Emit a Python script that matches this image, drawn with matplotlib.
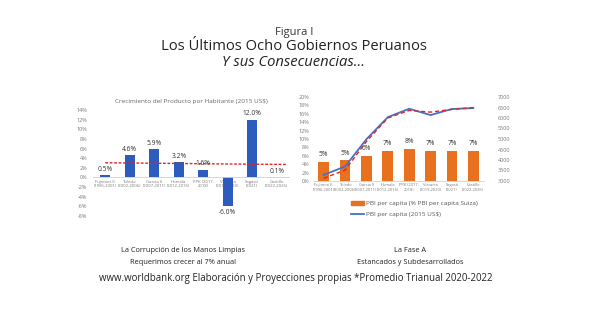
import matplotlib
matplotlib.use("Agg")
import matplotlib.pyplot as plt
from matplotlib.patches import Patch
from matplotlib.lines import Line2D

# ---- data ----
left_cats = ["Fujimori II\n(1996-2001)", "Toledo\n(2002-2006)", "Garcia II\n(2007-2011)",
             "Humala\n(2012-2016)", "PPK (2017-\n2018)", "Vizcarra\n(2019-2020)",
             "Sagasti\n(2021)", "Castillo\n(2022-2026)"]
growth = [0.5, 4.6, 5.9, 3.2, 1.6, -6.0, 12.0, 0.1]
growth_labels = ["0.5%", "4.6%", "5.9%", "3.2%", "1.6%", "-6.0%", "12.0%", "0.1%"]
growth_trend = [3.05, 3.0, 2.95, 2.9, 2.85, 2.8, 2.75, 2.7]
left_yticks = [-8, -6, -4, -2, 0, 2, 4, 6, 8, 10, 12, 14]

right_cats = ["Fujimori II\n(1996-2001)", "Toledo\n(2002-2006)", "Garcia II\n(2007-2011)",
              "Humala\n(2012-2016)", "PPK (2017-\n2018)", "Vizcarra\n(2019-2020)",
              "Sagasti\n(2021)", "Castillo\n(2022-2026)"]
pct_suiza = [4.5, 4.9, 6.0, 7.2, 7.6, 7.1, 7.25, 7.25]
pct_labels = ["5%", "5%", "6%", "7%", "8%", "7%", "7%", "7%"]
pbi_pc = [3290, 3690, 4990, 6040, 6440, 6140, 6430, 6470]
pbi_trend = [3130, 3520, 4880, 6000, 6360, 6280, 6410, 6500]
right_yticks = [0, 2, 4, 6, 8, 10, 12, 14, 16, 18, 20]
right_y2ticks = [3000, 3500, 4000, 4500, 5000, 5500, 6000, 6500, 7000]

plt.rcParams['font.family'] = ['Open Sans', 'DejaVu Sans']
W, H = 589, 331
fig = plt.figure(figsize=(W / 100, H / 100), dpi=100)
fig.patch.set_facecolor("white")

tick_col = "#7a7a7a"
blue_bar = "#2D5CBE"
orange = "#E8711F"
blue_line = "#4472C4"
red = "#E02525"

# ---- titles ----
fig.text(294 / W, 1 - 32 / H, "Figura I", ha="center", va="center", fontsize=8, color="#333333")
fig.text(294 / W, 1 - 47 / H, "Los Últimos Ocho Gobiernos Peruanos", ha="center", va="center",
         fontsize=10.6, color="#222222")
fig.text(293 / W, 1 - 63 / H, "Y sus Consecuencias...", ha="center", va="center",
         fontsize=10.6, color="#222222", style="italic")

# ---- left chart ----
axL = fig.add_axes([93 / W, 1 - 216 / H, 196 / W, 106 / H])
xs = list(range(len(left_cats)))
axL.bar(xs, growth, width=0.42, color=blue_bar, zorder=2)
axL.plot([x for x in xs[:-1]] + [xs[-1] + 0.4], growth_trend, color=red,
         linestyle=(0, (2, 1.2)), linewidth=1.0, zorder=3)
axL.set_ylim(-8, 14)
axL.set_xlim(-0.5, len(left_cats) - 0.5)
axL.set_yticks(left_yticks)
axL.set_yticklabels([f"{v}%" for v in left_yticks])
axL.set_xticks(xs)
axL.set_xticklabels(left_cats)
for s in ["top", "right", "left"]:
    axL.spines[s].set_visible(False)
axL.spines["bottom"].set_position(("data", 0))
axL.spines["bottom"].set_color("#d0d0d0")
axL.spines["bottom"].set_linewidth(0.6)
axL.tick_params(axis="y", length=0, labelsize=4, colors=tick_col, pad=4)
axL.tick_params(axis="x", length=0, labelsize=3.1, colors=tick_col, pad=1.5)
for x, v, lab in zip(xs, growth, growth_labels):
    if v >= 0:
        axL.text(x, v + 0.5, lab, ha="center", va="bottom", fontsize=4.8, color="#333333")
    else:
        axL.text(x, v - 0.6, lab, ha="center", va="top", fontsize=4.8, color="#333333")
axL.set_title("Crecimiento del Producto por Habitante (2015 US$)", fontsize=4.6, color="#666666", pad=5)

# ---- right chart ----
axR = fig.add_axes([313 / W, 1 - 181 / H, 171 / W, 84 / H])
xr = list(range(len(right_cats)))
axR.bar(xr, pct_suiza, width=0.5, color=orange, zorder=2)
axR.set_ylim(0, 20)
axR.set_xlim(-0.5, len(right_cats) - 0.5)
axR.set_yticks(right_yticks)
axR.set_yticklabels([f"{v}%" for v in right_yticks])
axR.set_xticks(xr)
axR.set_xticklabels(right_cats)
for x, v, lab in zip(xr, pct_suiza, pct_labels):
    axR.text(x, v + 0.9, lab, ha="center", va="bottom", fontsize=4.8, color="#333333")
for s in ["top", "right", "left"]:
    axR.spines[s].set_visible(False)
axR.spines["bottom"].set_color("#d0d0d0")
axR.spines["bottom"].set_linewidth(0.6)
axR.tick_params(axis="y", length=0, labelsize=4, colors=tick_col, pad=2.5)
axR.tick_params(axis="x", length=0, labelsize=2.9, colors=tick_col, pad=1.5)

axR2 = axR.twinx()
axR2.plot(xr, pbi_pc, color=blue_line, linewidth=1.3, zorder=3)
axR2.plot(xr, pbi_trend, color=red, linestyle=(0, (3, 2)), linewidth=1.0, zorder=4)
axR2.set_ylim(3000, 7000)
axR2.set_yticks(right_y2ticks)
axR2.set_yticklabels([str(v) for v in right_y2ticks])
for s in ["top", "right", "left", "bottom"]:
    axR2.spines[s].set_visible(False)
axR2.tick_params(axis="y", length=0, labelsize=4, colors=tick_col, pad=10)

handles = [Patch(color=orange, label="PBI per capita (% PBI per capita Suiza)"),
           Line2D([0], [0], color=blue_line, linewidth=1.3, label="PBI per capita (2015 US$)")]
fig.legend(handles=handles, loc="upper left", bbox_to_anchor=(345 / W, 1 - 195 / H),
           frameon=False, fontsize=4.6, labelcolor="#555555", handlelength=2.0,
           handleheight=0.6, labelspacing=0.9, handletextpad=0.4)

# ---- bottom texts ----
fig.text(183 / W, 1 - 251 / H, "La Corrupción de los Manos Limpias", ha="center", va="center",
         fontsize=5.3, color="#222222")
fig.text(183 / W, 1 - 262 / H, "Requerimos crecer al 7% anual", ha="center", va="center",
         fontsize=5.3, color="#222222")
fig.text(410 / W, 1 - 251 / H, "La Fase A", ha="center", va="center", fontsize=5.3, color="#222222")
fig.text(410 / W, 1 - 262 / H, "Estancados y Subdesarrollados", ha="center", va="center",
         fontsize=5.3, color="#222222")
fig.text(296 / W, 1 - 279 / H,
         "www.worldbank.org Elaboración y Proyecciones propias *Promedio Trianual 2020-2022",
         ha="center", va="center", fontsize=6.9, color="#222222")

fig.savefig("out.png", dpi=100, facecolor="white")
